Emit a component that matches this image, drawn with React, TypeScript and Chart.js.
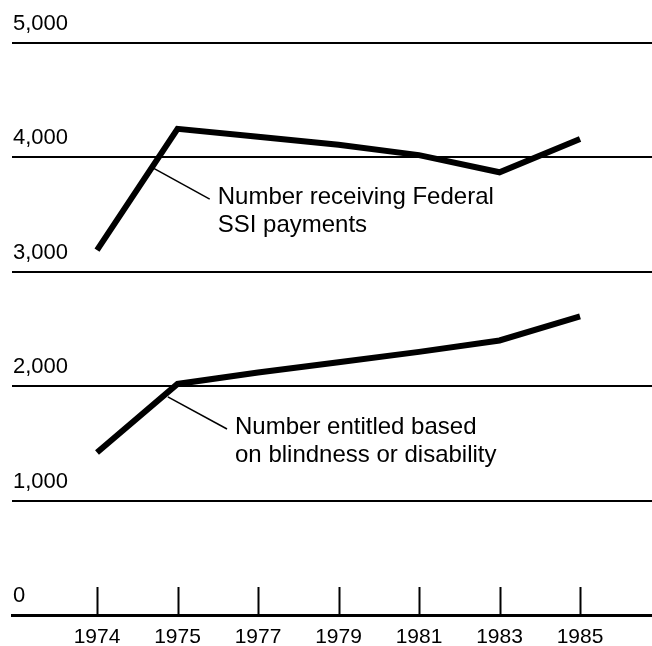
import React, { useEffect, useRef } from "react";
import { Chart, registerables } from "chart.js";

Chart.register(...registerables);

const categories = ["1974", "1975", "1977", "1979", "1981", "1983", "1985"];
const ssiRecipients = [3190, 4250, 4180, 4110, 4020, 3870, 4160];
const blindDisabled = [1420, 2020, 2120, 2210, 2300, 2400, 2610];
const yTicks = [0, 1000, 2000, 3000, 4000, 5000];

const ssiLabel = ["Number receiving Federal", "SSI payments"];
const blindLabel = ["Number entitled based", "on blindness or disability"];

const FONT = '"Liberation Sans", Arial, Helvetica, sans-serif';

const calloutPlugin = {
  id: "callouts",
  afterDatasetsDraw(chart: any) {
    const { ctx, scales } = chart;
    const xs = scales.x;
    const ys = scales.y;
    ctx.save();
    // tick marks rising from the baseline
    ctx.strokeStyle = "#000";
    ctx.lineWidth = 2;
    const base = ys.getPixelForValue(0);
    categories.forEach((_, i) => {
      const px = Math.round(xs.getPixelForValue(i)) + 0.5;
      ctx.beginPath();
      ctx.moveTo(px, base);
      ctx.lineTo(px, base - 28);
      ctx.stroke();
    });

    const callouts = [
      { from: [0.7, 3907], to: [1.4, 3636], lines: ssiLabel },
      { from: [0.88, 1906], to: [1.615, 1626], lines: blindLabel },
    ];
    ctx.lineWidth = 1.5;
    ctx.font = `24px ${FONT}`;
    ctx.fillStyle = "#000";
    ctx.textAlign = "left";
    ctx.textBaseline = "middle";
    callouts.forEach((c) => {
      const x1 = xs.getPixelForValue(c.from[0]);
      const y1 = ys.getPixelForValue(c.from[1]);
      const x2 = xs.getPixelForValue(c.to[0]);
      const y2 = ys.getPixelForValue(c.to[1]);
      ctx.beginPath();
      ctx.moveTo(x1, y1);
      ctx.lineTo(x2, y2);
      ctx.stroke();
      c.lines.forEach((t, k) => {
        ctx.fillText(t, x2 + 8, y2 - 2 + k * 28);
      });
    });
    ctx.restore();
  },
};

export default function App() {
  const ref = useRef<HTMLCanvasElement | null>(null);
  useEffect(() => {
    if (!ref.current) return;
    const chart = new Chart(ref.current, {
      type: "line",
      data: {
        datasets: [
          {
            label: "Number receiving Federal SSI payments",
            data: ssiRecipients.map((v, i) => ({ x: i, y: v })),
            borderColor: "#000",
            borderWidth: 6,
            pointRadius: 0,
            borderJoinStyle: "miter",
            borderCapStyle: "butt",
            tension: 0,
          },
          {
            label: "Number entitled based on blindness or disability",
            data: blindDisabled.map((v, i) => ({ x: i, y: v })),
            borderColor: "#000",
            borderWidth: 6,
            pointRadius: 0,
            borderJoinStyle: "miter",
            borderCapStyle: "butt",
            tension: 0,
          },
        ],
      },
      options: {
        responsive: false,
        animation: false,
        layout: { padding: { left: 12, right: 0, top: 43, bottom: 0 } },
        plugins: { legend: { display: false }, tooltip: { enabled: false } },
        scales: {
          x: {
            type: "linear",
            min: -1.056,
            max: 6.894,
            afterBuildTicks: (axis: any) => {
              axis.ticks = categories.map((_, i) => ({ value: i }));
            },
            afterFit: (axis: any) => {
              axis.height = 31;
            },
            grid: { display: false, drawTicks: false },
            border: { display: true, color: "#000", width: 3 },
            ticks: {
              padding: 10,
              color: "#000",
              font: { family: FONT, size: 21 },
              callback: (v: any) => categories[v as number] ?? "",
              maxRotation: 0,
              autoSkip: false,
            },
          },
          y: {
            min: 0,
            max: 5000,
            afterBuildTicks: (axis: any) => {
              axis.ticks = yTicks.map((v) => ({ value: v }));
            },
            afterFit: (axis: any) => {
              axis.width = 0;
            },
            grid: { color: "#000", lineWidth: 2, drawTicks: false },
            border: { display: false },
            ticks: {
              mirror: true,
              padding: 1,
              labelOffset: -19,
              color: "#000",
              font: { family: FONT, size: 22 },
              callback: (v: any) => Number(v).toLocaleString("en-US"),
            },
          },
        },
      },
      plugins: [calloutPlugin],
    });
    return () => chart.destroy();
  }, []);
  return (
    <div style={{ position: "absolute", left: 0, top: 0, width: 652, height: 646, background: "#fff" }}>
      <canvas ref={ref} width={652} height={646} />
    </div>
  );
}
